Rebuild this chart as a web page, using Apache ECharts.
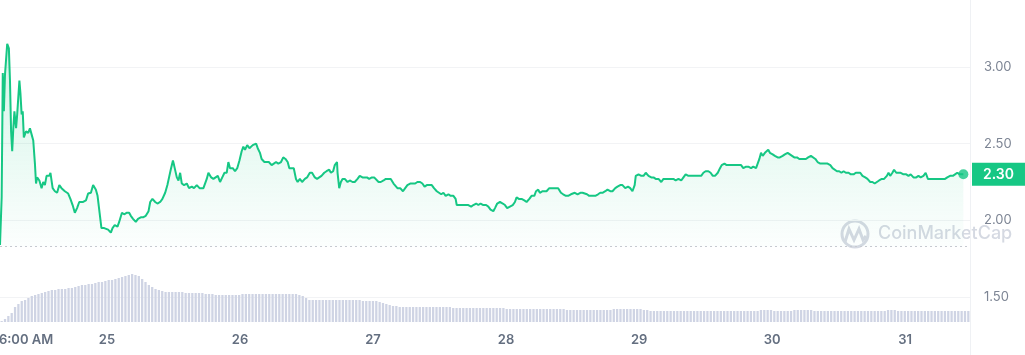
<!DOCTYPE html>
<html>
<head>
<meta charset="utf-8">
<script src="https://cdn.jsdelivr.net/npm/echarts@6/dist/echarts.min.js"></script>
<style>
	html, body { margin: 0; padding: 0; background: #fff; }
	#main { width: 1025px; height: 355px; }
</style>
</head>
<body>
<div id="main"></div>
<script>
// price points: [hours since 24th 00:00, price]
var d24 = [[4.7,1.84],[5.0,2.15],[5.2,2.96],[5.4,2.71],[5.6,2.95],[6.0,3.15],[6.3,3.12],[6.5,2.91],[6.7,2.58],[6.9,2.45],
	[7.1,2.60],[7.3,2.71],[7.6,2.60],[7.8,2.69],[8.2,2.91],[8.4,2.82],[8.6,2.69],[8.8,2.71],[9.0,2.54],[9.4,2.58],
	[9.8,2.57],[10.1,2.60],[10.4,2.56],[10.7,2.52],[11.0,2.37],[11.2,2.24],[11.4,2.28],[11.8,2.26],[12.2,2.21],[12.5,2.25],
	[12.8,2.23],[13.1,2.29],[13.6,2.29],[13.8,2.31],[14.2,2.21],[14.6,2.19],[15.0,2.18],[15.4,2.23],[15.8,2.21],[16.4,2.19],
	[17.0,2.175],[17.4,2.14],[17.8,2.10],[18.2,2.05],[18.6,2.08],[19.0,2.12],[19.3,2.11],[19.7,2.12],[20.2,2.13],[20.6,2.175],
	[21.1,2.18],[21.5,2.23],[22.0,2.20],[22.3,2.16],[22.6,2.15],[23.0,1.95],[23.5,1.95],[23.8,1.95]];
var d25 = [[24.2,1.94],[24.7,1.92],[25.0,1.95],[25.4,1.97],[25.9,1.96],[26.2,1.99],[26.7,2.05],[27.1,2.04],[27.6,2.05],[28.0,2.05],
	[28.3,2.03],[28.7,2.01],[29.2,1.99],[29.6,2.01],[30.1,2.02],[30.5,2.02],[31.0,2.03],[31.5,2.06],[31.8,2.12],[32.2,2.14],
	[32.7,2.12],[33.1,2.11],[33.6,2.12],[34.0,2.14],[34.5,2.18],[34.9,2.23],[35.2,2.28],[35.5,2.33],[35.9,2.39],[36.1,2.36],
	[36.6,2.28],[36.9,2.26],[37.2,2.31],[37.5,2.24],[37.9,2.23],[38.4,2.24],[38.8,2.21],[39.3,2.22],[39.7,2.21],[40.2,2.23],
	[40.7,2.21],[41.4,2.21],[42.0,2.27],[42.3,2.31],[42.8,2.28],[43.2,2.27],[43.6,2.28],[44.0,2.29],[44.4,2.25],[44.8,2.28],
	[45.2,2.31],[45.6,2.31],[45.9,2.38],[46.2,2.34],[46.7,2.34],[47.1,2.32],[47.5,2.34],[47.9,2.39]];
var d26 = [[48.3,2.45],[48.6,2.48],[48.9,2.46],[49.3,2.49],[49.7,2.47],[50.0,2.46],[50.3,2.49],[50.6,2.48],[50.9,2.50],[51.2,2.47],
	[51.6,2.44],[51.9,2.40],[52.4,2.38],[52.8,2.38],[53.2,2.38],[53.7,2.36],[54.1,2.37],[54.5,2.38],[54.9,2.37],[55.4,2.38],
	[55.8,2.41],[56.2,2.40],[56.6,2.38],[56.9,2.34],[57.3,2.34],[57.7,2.34],[58.1,2.27],[58.4,2.25],[58.8,2.27],[59.2,2.25],
	[59.7,2.27],[60.1,2.28],[60.6,2.31],[61.0,2.31],[61.5,2.28],[61.9,2.27],[62.3,2.28],[62.7,2.29],[63.2,2.31],[63.6,2.32],
	[64.1,2.33],[64.4,2.31],[64.8,2.32],[65.1,2.36],[65.5,2.38],[65.6,2.31],[65.9,2.21],[66.2,2.25],[66.5,2.27],[66.9,2.27],
	[67.4,2.25],[67.8,2.26],[68.3,2.25],[68.7,2.25],[69.2,2.27],[69.6,2.29],[70.1,2.28],[70.4,2.27],[70.9,2.28],[71.3,2.27],
	[71.8,2.28]];
var d27 = [[72.2,2.28],[72.5,2.27],[73.0,2.25],[73.4,2.25],[73.9,2.26],[74.3,2.27],[74.8,2.27],[75.2,2.27],[75.7,2.24],[76.4,2.21],
	[76.9,2.21],[77.4,2.19],[77.8,2.21],[78.2,2.23],[78.7,2.24],[79.2,2.24],[79.6,2.24],[80.0,2.25],[80.5,2.25],[80.9,2.24],
	[81.3,2.22],[81.7,2.23],[82.2,2.23],[82.6,2.23],[83.0,2.21],[83.5,2.19],[83.9,2.18],[84.3,2.17],[84.7,2.18],[85.1,2.16],
	[85.6,2.17],[86.0,2.16],[86.5,2.16],[86.9,2.14],[87.1,2.10],[87.7,2.10],[88.3,2.10],[88.8,2.10],[89.2,2.10],[89.7,2.09],
	[90.1,2.10],[90.6,2.11],[91.0,2.10],[91.4,2.11],[91.9,2.10],[92.4,2.10],[92.8,2.09],[93.2,2.07],[93.7,2.06],[94.0,2.08],
	[94.4,2.11],[94.9,2.12],[95.4,2.11],[95.8,2.10]];
var d28 = [[96.2,2.08],[96.7,2.09],[97.2,2.10],[97.6,2.12],[97.9,2.15],[98.3,2.14],[98.8,2.14],[99.3,2.13],[99.7,2.12],[100.2,2.14],
	[100.6,2.16],[101.1,2.16],[101.4,2.19],[101.8,2.20],[102.1,2.18],[102.6,2.19],[102.9,2.19],[103.3,2.19],[103.8,2.21],[104.1,2.22],
	[104.5,2.21],[105.0,2.21],[105.4,2.21],[105.9,2.18],[106.3,2.17],[106.8,2.16],[107.2,2.16],[107.7,2.17],[108.0,2.18],[108.4,2.18],
	[108.9,2.17],[109.4,2.18],[109.8,2.18],[110.1,2.18],[110.6,2.17],[111.0,2.16],[111.6,2.16],[112.1,2.16],[112.6,2.17],[113.0,2.18],
	[113.4,2.18],[113.9,2.19],[114.3,2.20],[114.8,2.19],[115.2,2.19],[115.7,2.21],[116.1,2.22],[116.6,2.23],[117.0,2.23],[117.5,2.21],
	[118.0,2.22],[118.4,2.21],[118.8,2.19],[119.2,2.23],[119.4,2.29],[119.9,2.30]];
var d29 = [[120.4,2.29],[120.8,2.29],[121.2,2.31],[121.7,2.29],[122.2,2.28],[122.6,2.28],[123.0,2.27],[123.5,2.27],[124.0,2.25],[124.4,2.27],
	[124.9,2.27],[125.3,2.27],[125.8,2.27],[126.2,2.27],[126.6,2.26],[127.1,2.27],[127.6,2.26],[128.0,2.28],[128.4,2.30],[128.9,2.29],
	[129.4,2.29],[129.8,2.29],[130.2,2.29],[130.7,2.29],[131.2,2.29],[131.6,2.31],[132.0,2.32],[132.5,2.32],[132.9,2.31],[133.3,2.29],
	[133.7,2.29],[134.2,2.31],[134.6,2.34],[134.9,2.36],[135.4,2.37],[135.8,2.36],[136.2,2.36],[136.7,2.36],[137.2,2.36],[137.6,2.36],
	[138.0,2.36],[138.4,2.36],[138.8,2.34],[139.3,2.35],[139.7,2.35],[140.2,2.34],[140.6,2.35],[141.1,2.34],[141.4,2.35],[141.7,2.40],
	[142.0,2.44],[142.3,2.42],[142.7,2.44],[143.0,2.44],[143.3,2.46],[143.6,2.44]];
var d30 = [[144.1,2.43],[144.5,2.42],[145.0,2.41],[145.4,2.41],[145.9,2.42],[146.3,2.43],[146.8,2.44],[147.1,2.44],[147.6,2.42],[148.0,2.41],
	[148.5,2.41],[148.9,2.40],[149.2,2.39],[149.6,2.40],[150.1,2.40],[150.5,2.41],[151.0,2.42],[151.3,2.42],[151.8,2.40],[152.2,2.38],
	[152.7,2.37],[153.1,2.37],[153.6,2.37],[154.0,2.37],[154.5,2.36],[154.9,2.34],[155.2,2.33],[155.7,2.32],[156.1,2.32],[156.5,2.31],
	[156.9,2.32],[157.3,2.31],[157.8,2.31],[158.2,2.30],[158.7,2.30],[159.1,2.31],[159.5,2.31],[159.9,2.31],[160.3,2.29],[160.8,2.28],
	[161.2,2.27],[161.7,2.25],[162.1,2.25],[162.5,2.24],[162.9,2.25],[163.3,2.26],[163.8,2.27],[164.2,2.27],[164.7,2.29],[165.0,2.31],
	[165.3,2.29],[165.7,2.31],[166.0,2.33],[166.4,2.31],[166.8,2.31],[167.2,2.31],[167.7,2.30]];
var d31 = [[168.2,2.30],[168.6,2.29],[169.0,2.30],[169.5,2.28],[170.0,2.28],[170.4,2.29],[170.8,2.28],[171.3,2.29],[171.7,2.31],[172.1,2.27],
	[172.5,2.27],[173.0,2.27],[173.4,2.27],[173.8,2.27],[174.3,2.27],[174.8,2.27],[175.2,2.27],[175.6,2.28],[176.1,2.29],[176.6,2.29],
	[177.0,2.30],[177.4,2.31],[177.9,2.30],[178.5,2.30]];

// 24h volume, one bar per period (M)
var volume = [1,3,6,9,15,18,21,22,24,26,
	27,28,29,30,31,32,32,33,33,33,
	34,34,35,36,37,37,38,38,39,40,
	40,41,42,42,43,44,45,46,47,48,
	47,46,43,40,37,35,33,32,31,30,
	30,30,30,30,30,29,29,29,29,29,
	29,28,28,28,27,27,27,27,27,27,
	27,27,28,28,28,28,28,28,28,28,
	28,28,28,28,28,28,28,28,28,27,
	26,24,22,22,22,22,22,22,22,22,
	22,22,22,22,22,22,22,22,21,21,
	21,21,21,20,19,18,17,16,16,15,
	15,15,15,15,15,15,15,15,15,15,
	15,15,15,15,15,14,14,14,14,14,
	14,14,14,14,14,14,14,14,14,14,
	14,13,13,13,13,13,13,13,13,13,
	13,13,13,13,13,13,13,13,13,12,
	12,12,12,12,12,12,12,12,12,12,
	12,12,12,13,13,13,13,13,13,13,
	13,13,12,12,11,11,11,11,11,11,
	11,11,11,11,11,11,11,11,11,11,
	11,11,11,11,11,11,11,11,11,11,
	11,11,11,11,11,11,11,12,12,12,
	12,11,11,11,11,11,11,12,12,12,
	12,12,12,11,11,11,11,11,11,11,
	11,11,11,11,11,11,11,11,11,11,
	11,11,11,11,11,12,12,12,11,11,
	11,11,11,11,11,11,11,11,11,11,
	11,11,11,11,11,11,11,11,11,11];

var dayTicks = [9.4, 24, 48, 72, 96, 120, 144, 168];
var dayLabels = ['6:00 AM', '25', '26', '27', '28', '29', '30', '31'];
var baseline = 1.83;

var prices = [].concat(d24, d25, d26, d27, d28, d29, d30, d31);
var last = prices[prices.length - 1];
var green = '#16c784';

var myChart = echarts.init(document.getElementById('main'));
var option = {
	animation: false,
	textStyle: { fontFamily: 'Inter, Roboto, sans-serif' },
	grid: [
		{ left: 0, top: -10, width: 970, height: 384, outerBoundsMode: 'none' },
		{ left: 0, top: 262, width: 970, height: 60, outerBoundsMode: 'none' }
	],
	xAxis: [{
		gridIndex: 0,
		type: 'value',
		min: 4.7,
		max: 179.7,
		show: false
	}, {
		gridIndex: 1,
		type: 'category',
		data: volume.map(function (v, i) { return i; }),
		show: false
	}, {
		gridIndex: 1,
		type: 'value',
		min: 4.7,
		max: 179.7,
		position: 'bottom',
		axisLine: { show: false },
		axisTick: { show: false },
		splitLine: { show: false },
		axisLabel: {
			customValues: dayTicks,
			margin: 12,
			fontSize: 13,
			fontWeight: 600,
			color: '#646f80',
			formatter: function (v) {
				return dayLabels[dayTicks.indexOf(v)];
			}
		}
	}],
	yAxis: [{
		gridIndex: 0,
		type: 'value',
		position: 'right',
		min: 1,
		max: 3.5,
		interval: 0.5,
		axisLine: { show: true, lineStyle: { color: '#eff1f4' } },
		axisTick: { show: false },
		splitLine: { lineStyle: { color: '#f2f3f5' } },
		axisLabel: {
			margin: 14,
			fontSize: 13,
			color: '#7d8594',
			formatter: function (v) { return v.toFixed(2); }
		}
	}, {
		gridIndex: 1,
		type: 'value',
		min: 0,
		max: 60,
		show: false
	}],
	graphic: [{
		type: 'circle',
		shape: { cx: 855, cy: 234, r: 13 },
		style: { fill: 'none', stroke: '#d5d9e2', lineWidth: 3 }
	}, {
		type: 'polyline',
		shape: { points: [[845, 242], [849, 229], [854, 240], [859, 229], [863, 240], [866, 236]] },
		style: { fill: 'none', stroke: '#d5d9e2', lineWidth: 3 }
	}, {
		type: 'text',
		style: { text: 'CoinMarketCap', x: 878, y: 234, verticalAlign: 'middle', font: '500 18px Inter', fill: '#d5d9e2' }
	}],
	series: [{
		name: 'Volume',
		type: 'bar',
		xAxisIndex: 1,
		yAxisIndex: 1,
		data: volume,
		barWidth: '68%',
		silent: true,
		itemStyle: { color: '#cfd4e4' }
	}, {
		name: 'Price',
		type: 'line',
		xAxisIndex: 0,
		yAxisIndex: 0,
		data: prices,
		showSymbol: false,
		silent: true,
		lineStyle: { color: green, width: 2 },
		itemStyle: { color: green },
		areaStyle: {
			origin: baseline,
			color: new echarts.graphic.LinearGradient(0, 60, 0, 247, [
				{ offset: 0, color: 'rgba(22,199,132,0.25)' },
				{ offset: 1, color: 'rgba(22,199,132,0.02)' }
			], true)
		},
		markLine: {
			silent: true,
			symbol: 'none',
			data: [{
				yAxis: baseline,
				lineStyle: { color: '#c6c9d0', type: [2, 3], width: 1 },
				label: { show: false }
			}, {
				yAxis: last[1],
				lineStyle: { color: 'transparent', width: 1 },
				label: {
					show: true,
					position: 'end',
					distance: 2,
					formatter: last[1].toFixed(2),
					backgroundColor: green,
					color: '#fff',
					fontSize: 14,
					fontWeight: 600,
					padding: [5, 11, 4, 11]
				}
			}]
		}
	}, {
		name: 'Last',
		type: 'scatter',
		xAxisIndex: 0,
		yAxisIndex: 0,
		data: [last],
		symbolSize: 10,
		silent: true,
		itemStyle: { color: green }
	}]
};
myChart.setOption(option);
</script>
</body>
</html>
